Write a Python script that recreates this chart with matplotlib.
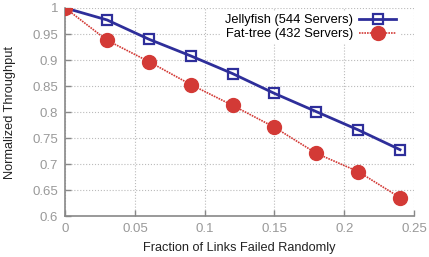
import matplotlib
matplotlib.use("Agg")
import matplotlib.pyplot as plt

plt.rcParams['font.family'] = ['Liberation Sans', 'DejaVu Sans']

x = [0, 0.03, 0.06, 0.09, 0.12, 0.15, 0.18, 0.21, 0.24]
jellyfish = [1.0, 0.977, 0.940, 0.908, 0.874, 0.836, 0.801, 0.766, 0.728]
fattree = [1.0, 0.938, 0.897, 0.853, 0.813, 0.771, 0.721, 0.686, 0.636]
xticks = [0, 0.05, 0.1, 0.15, 0.2, 0.25]
xticklabels = ['0', '0.05', '0.1', '0.15', '0.2', '0.25']
yticks = [0.6, 0.65, 0.7, 0.75, 0.8, 0.85, 0.9, 0.95, 1.0]
yticklabels = ['0.6', '0.65', '0.7', '0.75', '0.8', '0.85', '0.9', '0.95', '1']

fig = plt.figure(figsize=(4.29, 2.57), dpi=100)
ax = fig.add_axes([0.152, 0.158, 0.813, 0.811])

blue = '#2e2e9a'
red = '#d33a36'
ax.plot(x, jellyfish, color=blue, lw=2, marker='s', ms=6.5, mfc='none', mec=blue, mew=1.6,
        label='Jellyfish (544 Servers)', zorder=3)
ax.plot(x, fattree, color=red, lw=1.2, ls=(0, (1, 0.6)), marker='o', ms=10, mfc=red, mec=red,
        label='Fat-tree (432 Servers)', zorder=4)

ax.set_xlim(0, 0.25)
ax.set_ylim(0.6, 1.0)
ax.set_xticks(xticks)
ax.set_xticklabels(xticklabels)
ax.set_yticks(yticks)
ax.set_yticklabels(yticklabels)
ax.grid(True, color='#bbbbbb', ls=':', lw=0.8)
for s in ['top', 'right']:
    ax.spines[s].set_visible(False)
for s in ['left', 'bottom']:
    ax.spines[s].set_color('#888888')
    ax.spines[s].set_linewidth(1.2)
ax.tick_params(colors='#888888', labelcolor='#999999', labelsize=9.5, length=4, width=1,
               direction='in', pad=5)
ax.set_xlabel('Fraction of Links Failed Randomly', fontsize=9.2, color='#222222', labelpad=5)
ax.set_ylabel('Normalized Throughput', fontsize=9.2, color='#222222', labelpad=12)
leg = ax.legend(loc='upper right', bbox_to_anchor=(0.968, 1.0), markerfirst=False,
                frameon=True, fontsize=9.3, handlelength=2.9, borderaxespad=0.2,
                labelspacing=0.12, handletextpad=0.45, borderpad=0.3)
leg.get_frame().set_facecolor('white')
leg.get_frame().set_edgecolor('none')
leg.get_frame().set_alpha(1)
fig.savefig('out.png', dpi=100)
